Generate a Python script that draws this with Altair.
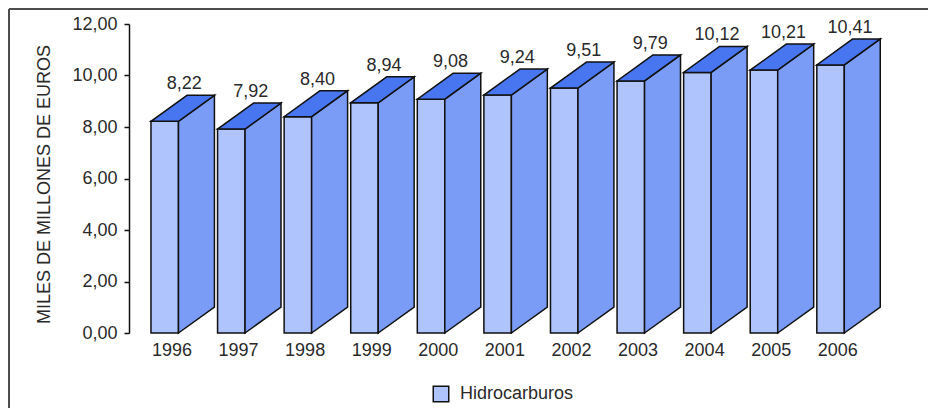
import altair as alt
import pandas as pd

# ---- data ----
years = ["1996", "1997", "1998", "1999", "2000", "2001", "2002", "2003", "2004", "2005", "2006"]
values = [8.22, 7.92, 8.40, 8.94, 9.08, 9.24, 9.51, 9.79, 10.12, 10.21, 10.41]
series_name = "Hidrocarburos"
y_ticks = [0, 2, 4, 6, 8, 10, 12]
y_title = "MILES DE MILLONES DE EUROS"

# ---- style constants (3D look, in scale units) ----
FRONT_OFF = 0.33   # front face left edge within a category slot
FRONT_W = 0.413    # front face width
DEPTH_X = 0.54     # depth shift to the right
DEPTH_Y = 1.01     # depth shift upward (value units)
YEAR_OFF = 0.645   # category label position within slot
VAL_OFF = 0.50     # value label position within slot

FRONT = "#AFC3FD"
SIDE = "#7A9CF6"
TOP = "#4876F0"
TXT = "#2a2a2a"
FONT = "Liberation Sans"

front_rows, side_rows, top_rows = [], [], []
for i, (yr, v) in enumerate(zip(years, values)):
    xl = i + FRONT_OFF
    xr = xl + FRONT_W
    front_rows.append({"year": yr, "xl": xl, "xr": xr, "v": v, "series": series_name,
                       "xt": xl + VAL_OFF, "yt": v + DEPTH_Y,
                       "lab": f"{v:.2f}".replace(".", ","), "xy": i + YEAR_OFF})
    side_rows.append({"year": yr, "x": xr, "lo": 0.0, "hi": v})
    side_rows.append({"year": yr, "x": xr + DEPTH_X, "lo": DEPTH_Y, "hi": v + DEPTH_Y})
    top_rows.append({"year": yr, "y": v, "a": xl, "b": xr})
    top_rows.append({"year": yr, "y": v + DEPTH_Y, "a": xl + DEPTH_X, "b": xr + DEPTH_X})

front_df = pd.DataFrame(front_rows)
side_df = pd.DataFrame(side_rows)
top_df = pd.DataFrame(top_rows)

xs = alt.Scale(domain=[0, 12], nice=False, zero=False)
ys = alt.Scale(domain=[0, 12], nice=False)

y_axis = alt.Axis(
    values=y_ticks,
    labelExpr="replace(format(datum.value, '.2f'), '.', ',')",
    title=y_title, grid=False, tickSize=5, tickWidth=1.5, tickColor="#111",
    domainColor="#111", domainWidth=1.5, labelFontSize=18, labelColor=TXT,
    labelFont=FONT, labelPadding=7, titleFontSize=18, titleFont=FONT,
    titleFontWeight="normal", titleColor=TXT, titleX=-80, titleY=160,
    titleBaseline="alphabetic", titleAlign="center", titleAngle=270,
)

front = alt.Chart(front_df).mark_rect(stroke="#111", strokeWidth=1.5).encode(
    x=alt.X("xl:Q", scale=xs, axis=None),
    x2="xr:Q",
    y=alt.Y("v:Q", scale=ys, axis=y_axis),
    y2=alt.datum(0),
    color=alt.Color("series:N",
                    scale=alt.Scale(domain=[series_name], range=[FRONT]),
                    legend=alt.Legend(title=None, orient="none", legendX=303, legendY=361,
                                      symbolType="square", symbolSize=240,
                                      symbolStrokeColor="#111", symbolStrokeWidth=1.5,
                                      symbolFillColor=FRONT,
                                      labelFontSize=18, labelFont=FONT, labelColor=TXT,
                                      labelOffset=10, padding=0)),
)

side = alt.Chart(side_df).mark_area(orient="vertical", fill=SIDE, stroke="#111",
                                     strokeWidth=1.5, opacity=1).encode(
    x=alt.X("x:Q", scale=xs, axis=None),
    y=alt.Y("lo:Q", scale=ys, axis=y_axis, stack=None),
    y2="hi:Q",
    detail="year:N",
)

top = alt.Chart(top_df).mark_area(orient="horizontal", fill=TOP, stroke="#111",
                                   strokeWidth=1.5, opacity=1).encode(
    y=alt.Y("y:Q", scale=ys, axis=y_axis),
    x=alt.X("a:Q", scale=xs, axis=None, stack=None),
    x2="b:Q",
    detail="year:N",
)

val_labels = alt.Chart(front_df).mark_text(fontSize=18, font=FONT, color=TXT,
                                            baseline="alphabetic", dy=-6).encode(
    x=alt.X("xt:Q", scale=xs, axis=None),
    y=alt.Y("yt:Q", scale=ys, axis=y_axis),
    text="lab:N",
)

year_labels = alt.Chart(front_df).mark_text(fontSize=18, font=FONT, color=TXT,
                                             baseline="alphabetic", dy=23).encode(
    x=alt.X("xy:Q", scale=xs, axis=None),
    y=alt.datum(0),
    text="year:N",
)

frame_df = pd.DataFrame({"k": [0]})
border_top = alt.Chart(frame_df).mark_rule(color="#4d4d4d", strokeWidth=2).encode(
    x=alt.value(-120), x2=alt.value(800), y=alt.value(-15))
border_left = alt.Chart(frame_df).mark_rule(color="#4d4d4d", strokeWidth=2).encode(
    x=alt.value(-120), y=alt.value(-15), y2=alt.value(400))

chart = alt.layer(front, side, top, val_labels, year_labels, border_top, border_left).properties(
    width=799, height=309,
    autosize=alt.AutoSizeParams(type="none"),
    padding={"left": 121, "top": 16, "right": 0, "bottom": 75},
).configure(font=FONT).configure_view(strokeWidth=0)

chart.save("out.html", embed_options={"renderer": "svg", "actions": False})
